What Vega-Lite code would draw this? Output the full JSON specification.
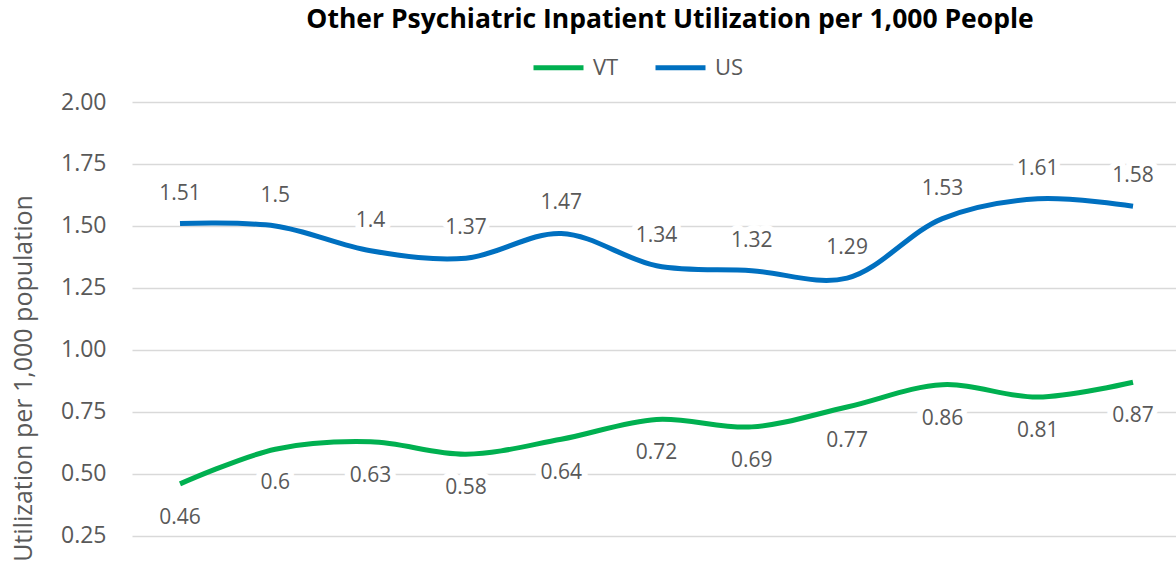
{
  "$schema": "https://vega.github.io/schema/vega-lite/v6.json",
  "autosize": {"type": "none"},
  "padding": {"left": 132, "top": 102, "right": 0, "bottom": 0},
  "width": 1044,
  "height": 467,
  "background": "white",
  "title": {
    "text": "Other Psychiatric Inpatient Utilization per 1,000 People",
    "font": "Open Sans",
    "fontSize": 26.5,
    "fontWeight": "bold",
    "color": "#000000",
    "anchor": "middle",
    "frame": "group",
    "dx": 16,
    "baseline": "alphabetic",
    "offset": -14
  },
  "config": {
    "view": {"stroke": null},
    "font": "Open Sans"
  },
  "data": {
    "values": [
      {"series": "VT", "point": 1, "value": 0.46},
      {"series": "VT", "point": 2, "value": 0.6},
      {"series": "VT", "point": 3, "value": 0.63},
      {"series": "VT", "point": 4, "value": 0.58},
      {"series": "VT", "point": 5, "value": 0.64},
      {"series": "VT", "point": 6, "value": 0.72},
      {"series": "VT", "point": 7, "value": 0.69},
      {"series": "VT", "point": 8, "value": 0.77},
      {"series": "VT", "point": 9, "value": 0.86},
      {"series": "VT", "point": 10, "value": 0.81},
      {"series": "VT", "point": 11, "value": 0.87},
      {"series": "US", "point": 1, "value": 1.51},
      {"series": "US", "point": 2, "value": 1.5},
      {"series": "US", "point": 3, "value": 1.4},
      {"series": "US", "point": 4, "value": 1.37},
      {"series": "US", "point": 5, "value": 1.47},
      {"series": "US", "point": 6, "value": 1.34},
      {"series": "US", "point": 7, "value": 1.32},
      {"series": "US", "point": 8, "value": 1.29},
      {"series": "US", "point": 9, "value": 1.53},
      {"series": "US", "point": 10, "value": 1.61},
      {"series": "US", "point": 11, "value": 1.58}
    ]
  },
  "encoding": {
    "x": {
      "field": "point",
      "type": "quantitative",
      "scale": {"domain": [0.4963, 11.451], "nice": false, "zero": false},
      "axis": null
    },
    "y": {
      "field": "value",
      "type": "quantitative",
      "scale": {"domain": [0.1169, 2], "nice": false, "zero": false},
      "axis": {
        "values": [0.25, 0.5, 0.75, 1, 1.25, 1.5, 1.75, 2],
        "format": ".2f",
        "domain": false,
        "ticks": false,
        "labelPadding": 26,
        "labelFont": "Open Sans",
        "labelFontSize": 23,
        "labelColor": "#595959",
        "gridColor": "#D9D9D9",
        "gridWidth": 1.5,
        "title": "Utilization per 1,000 population",
        "titleFont": "Open Sans",
        "titleFontSize": 25,
        "titleFontWeight": "normal",
        "titleColor": "#595959",
        "titleAngle": -90,
        "titleAlign": "center",
        "titleBaseline": "alphabetic",
        "titleX": -101,
        "titleY": 276
      }
    }
  },
  "layer": [
    {
      "mark": {"type": "line", "interpolate": "catmull-rom", "strokeWidth": 5, "strokeCap": "butt"},
      "encoding": {
        "color": {
          "field": "series",
          "type": "nominal",
          "scale": {"domain": ["VT", "US"], "range": ["#00B050", "#0070C0"]},
          "legend": {
            "title": null,
            "orient": "none",
            "legendX": 399,
            "legendY": -62,
            "direction": "horizontal",
            "symbolType": "stroke",
            "symbolSize": 2500,
            "symbolStrokeWidth": 5,
            "labelFont": "Open Sans",
            "labelFontSize": 22,
            "labelColor": "#595959",
            "labelOffset": 7,
            "columnPadding": 26
          }
        }
      }
    },
    {
      "transform": [{"filter": "datum.series === 'US'"}],
      "mark": {"type": "text", "dy": -30, "baseline": "middle", "align": "center", "font": "Open Sans", "fontSize": 21, "fill": "white", "stroke": "white", "strokeWidth": 12, "strokeJoin": "round"},
      "encoding": {"text": {"field": "value", "type": "nominal"}}
    },
    {
      "transform": [{"filter": "datum.series === 'US'"}],
      "mark": {"type": "text", "dy": -30, "baseline": "middle", "align": "center", "font": "Open Sans", "fontSize": 21, "color": "#595959"},
      "encoding": {"text": {"field": "value", "type": "nominal"}}
    },
    {
      "transform": [{"filter": "datum.series === 'VT'"}],
      "mark": {"type": "text", "dy": 34, "baseline": "middle", "align": "center", "font": "Open Sans", "fontSize": 21, "fill": "white", "stroke": "white", "strokeWidth": 12, "strokeJoin": "round"},
      "encoding": {"text": {"field": "value", "type": "nominal"}}
    },
    {
      "transform": [{"filter": "datum.series === 'VT'"}],
      "mark": {"type": "text", "dy": 34, "baseline": "middle", "align": "center", "font": "Open Sans", "fontSize": 21, "color": "#595959"},
      "encoding": {"text": {"field": "value", "type": "nominal"}}
    }
  ]
}
